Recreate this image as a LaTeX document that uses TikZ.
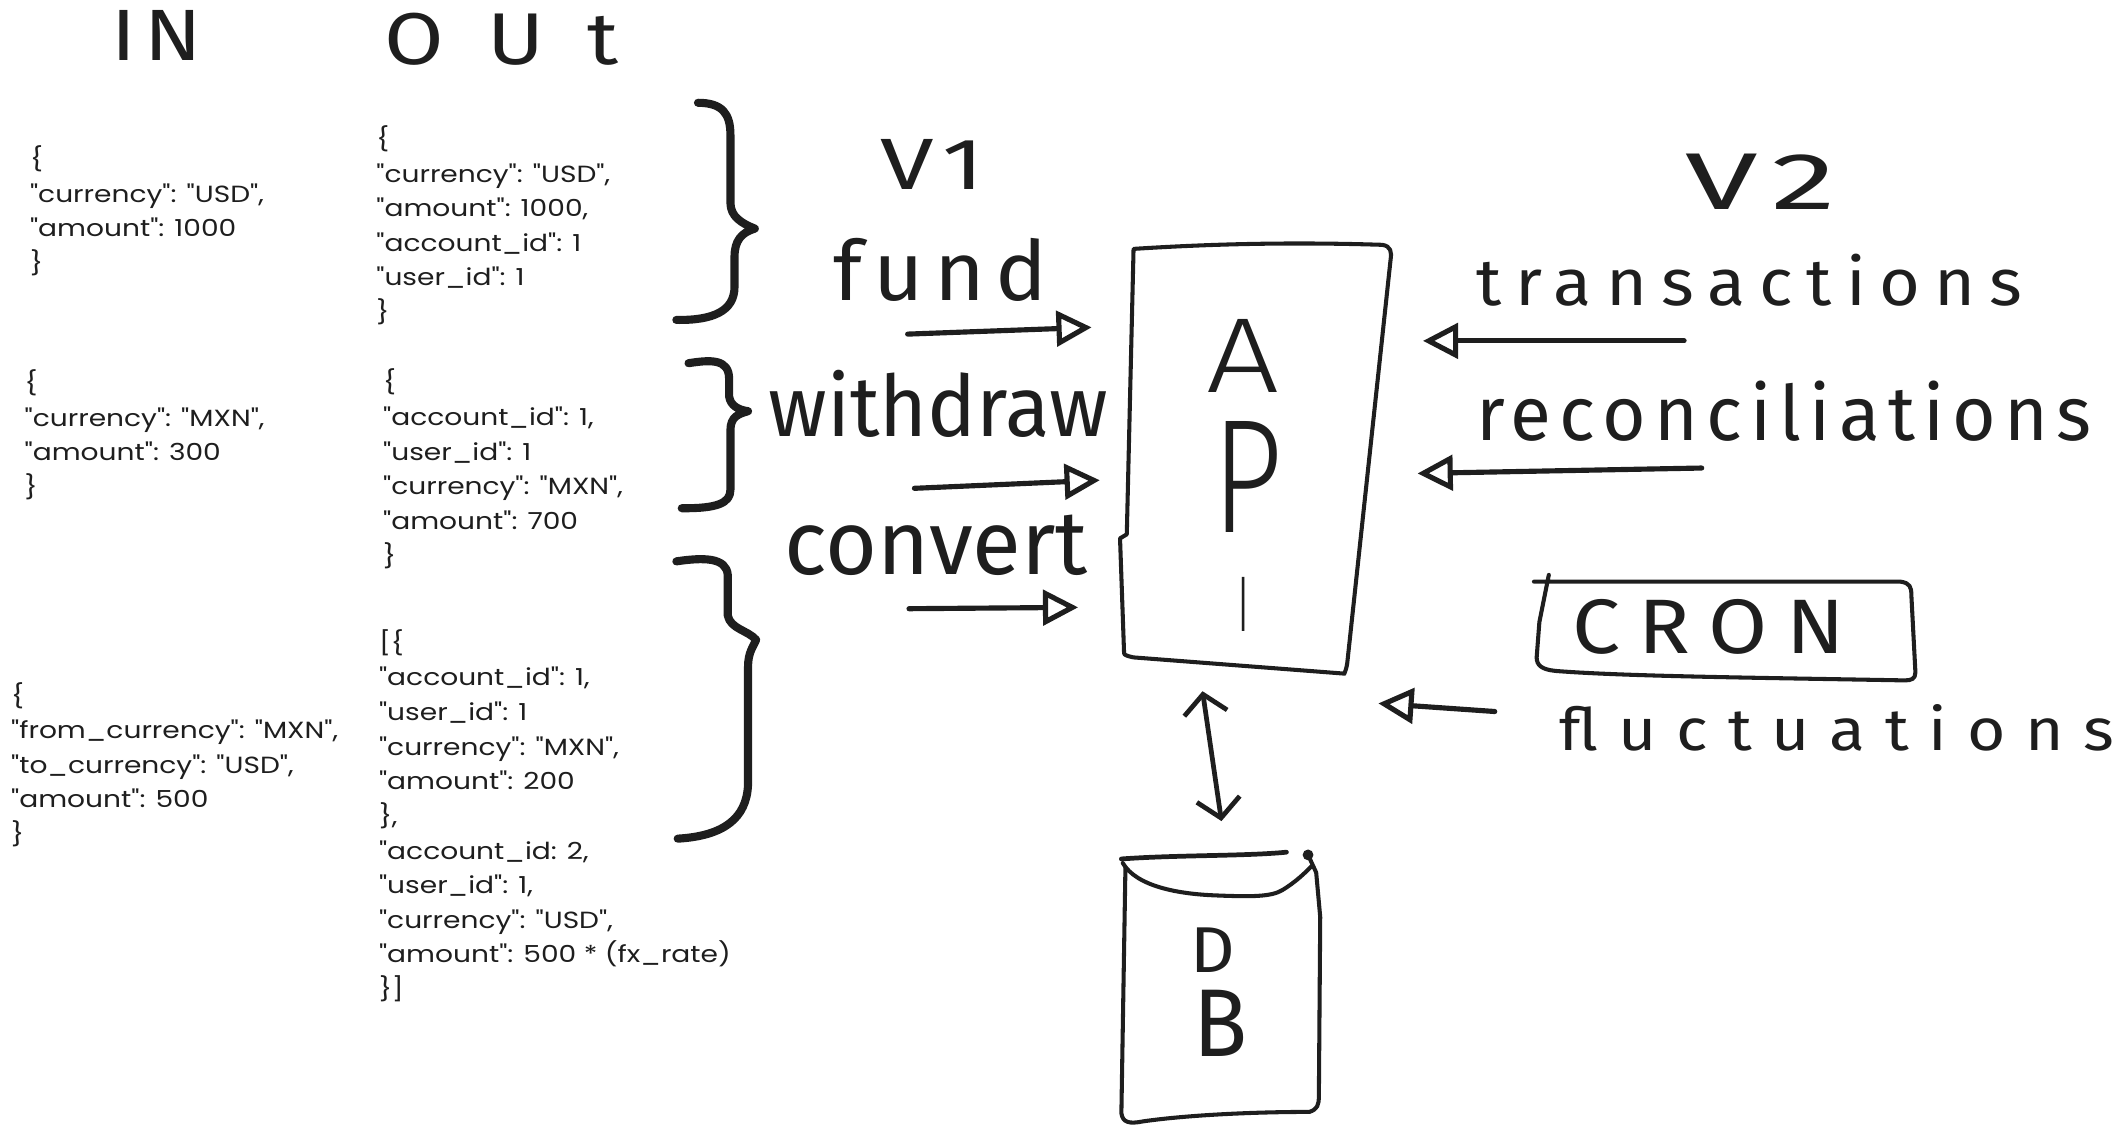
\documentclass[tikz,border=0pt]{standalone}
\usepackage{graphicx}
\usepackage{fontspec}
\setmainfont{Poppins}[FakeStretch=1.2, Ligatures=TeXOff]
\newfontfamily\handfont{Fira Sans}
\IfFontExistsTF{Fira Sans Light}{\newfontfamily\handlight{Fira Sans Light}}{\newfontfamily\handlight{Fira Sans}}
\usetikzlibrary{arrows.meta}
\definecolor{ink}{RGB}{30,30,30}
\newcommand\hand[4]{\resizebox{#1pt}{#2pt}{\handfont\addfontfeature{LetterSpace=#3}#4}}
\newcommand\handl[3]{\resizebox{#1pt}{#2pt}{\handlight #3}}
\newcommand\jl[1]{\begin{tabular}[t]{@{}l@{}}#1\end{tabular}}
\newcommand\q{\char34\relax}
\begin{document}
\begin{tikzpicture}[x=1pt,y=-1pt, line cap=round, line join=round,
  json/.style={font=\fontsize{17.3}{25.6}\selectfont, anchor=base west, inner sep=0pt, text=ink},
  lbl/.style={inner sep=0pt, anchor=base west, text=ink},
  sketch/.style={draw=ink, line width=3pt},
  bracestroke/.style={draw=ink, line width=6pt},
  arr/.style={draw=ink, line width=3.8pt, -{Triangle[open, length=26pt, width=26pt]}},
  dbl/.style={draw=ink, line width=3.5pt, {Straight Barb[length=14pt, width=32pt]}-{Straight Barb[length=14pt, width=32pt]}}]
\useasboundingbox (0,0) rectangle (1568,837);

% titles
\node[lbl] (tIN) at (82,45) {\hand{67}{37}{10}{IN}};
\node[lbl] (tOUT) at (284,48) {\hand{173}{38}{50}{OUt}};

% IN json
\node[json] (inA) at (22,124) {\jl{\{\\\q currency\q: \q USD\q,\\\q amount\q: 1000\\\}}};
\node[json] (inB) at (18,289.5) {\jl{\{\\\q currency\q: \q MXN\q,\\\q amount\q: 300\\\}}};
\node[json] (inC) at (8,520.5) {\jl{\{\\\q from\_currency\q: \q MXN\q,\\\q to\_currency\q: \q USD\q,\\\q amount\q: 500\\\}}};

% OUT json
\node[json] (outD) at (278,109) {\jl{\{\\\q currency\q: \q USD\q,\\\q amount\q: 1000,\\\q account\_id\q: 1\\\q user\_id\q: 1\\\}}};
\node[json] (outE) at (283,289) {\jl{\{\\\q account\_id\q: 1,\\\q user\_id\q: 1\\\q currency\q: \q MXN\q,\\\q amount\q: 700\\\}}};
\node[json] (outF) at (280,481.5) {\jl{[\{\\\q account\_id\q: 1,\\\q user\_id\q: 1\\\q currency\q: \q MXN\q,\\\q amount\q: 200\\\},\\\q account\_id: 2,\\\q user\_id\q: 1,\\\q currency\q: \q USD\q,\\\q amount\q: 500 * (fx\_rate)\\\}]}};

% braces
\draw[bracestroke] (516,76) .. controls (534,76) and (540,84) .. (540,100) -- (540,150)
  .. controls (540,160) and (548,165) .. (558,169) .. controls (548,172) and (543,178) .. (543,190)
  -- (543,212) .. controls (543,230) and (527,237) .. (500,236.5);
\draw[bracestroke] (509,268.5) .. controls (525,266) and (539,265) .. (539,280) -- (539,293)
  .. controls (540,300) and (546,303) .. (553,304) .. controls (546,306) and (540,308) .. (540,318)
  -- (540,362) .. controls (540,372) and (530,376) .. (504,375.7);
\draw[bracestroke] (500,415) .. controls (520,412) and (537,412) .. (538,425) -- (538,455)
  .. controls (540,465) and (553,466) .. (559,473) .. controls (557,478) and (553,482) .. (553,493)
  -- (553,580) .. controls (552,605) and (535,618) .. (501,620);

% v1 side
\node[lbl] (v1) at (651,140) {\hand{76}{37}{10}{V1}};
\node[lbl] (fund) at (616,222) {\hand{158}{46}{12}{fund}};
\node[lbl] (withdraw) at (568,323) {\hand{251}{49}{0}{withdraw}};
\node[lbl] (convert) at (580,425) {\hand{224}{44}{0}{convert}};
\coordinate (fundS) at (671,247);  \coordinate (fundE) at (807,242);
\coordinate (wdS) at (676,361);    \coordinate (wdE) at (813,355);
\coordinate (cvS) at (672,450);    \coordinate (cvE) at (797,449);
\draw[arr] (fundS) -- (fundE);
\draw[arr] (wdS) -- (wdE);
\draw[arr] (cvS) -- (cvE);

% API box
\coordinate (apiTL) at (838,184);
\coordinate (apiTR) at (1027,182);
\coordinate (apiBR) at (994,498);
\coordinate (apiBL) at (831,483);
\draw[sketch] (apiBL) -- (828,398) -- (833,395) -- (apiTL)
  .. controls (900,180) and (960,179) .. (1022,181) .. controls (1028,182) and (1029,186) .. (1028,192)
  -- (996,490) .. controls (995,497) and (993,499) .. (apiBR) -- (838,486) .. controls (833,485) and (831,484) .. (apiBL);
\node[lbl] (lA) at (892,290) {\handl{54}{54}{A}};
\node[lbl] (lP) at (896,394) {\handl{52}{82}{P}};
\node[lbl] (lI) at (915,467) {\handl{9}{40}{I}};

% v2 side
\node[lbl] (v2) at (1246,155) {\hand{111}{41}{10}{V2}};
\node[lbl] (trans) at (1091,226) {\hand{404}{38}{20}{transactions}};
\node[lbl] (recon) at (1091,326) {\hand{455}{44}{11}{reconciliations}};
\coordinate (trS) at (1245,252);  \coordinate (trE) at (1052,252);
\coordinate (rcS) at (1258,346);  \coordinate (rcE) at (1048,350);
\draw[arr] (trS) -- (trE);
\draw[arr] (rcS) -- (rcE);

% CRON
\draw[sketch] (1134,430) -- (1405,430) .. controls (1412,431) and (1413,434) .. (1413,440)
  -- (1416,497) .. controls (1416,502) and (1413,503) .. (1408,503)
  .. controls (1300,501) and (1200,500) .. (1150,496) .. controls (1140,495) and (1136,492) .. (1136,486)
  -- (1138,460) -- (1145,425);
\node[lbl] (cron) at (1162,483) {\hand{202}{40}{22}{CRON}};
\node[lbl] (fluct) at (1153,555) {\hand{410}{34}{30}{fluctuations}};
\coordinate (flS) at (1105,526);  \coordinate (flE) at (1019,520);
\draw[arr] (flS) -- (flE);

% API <-> DB
\coordinate (dbA) at (889,511);  \coordinate (dbZ) at (903,607);
\draw[dbl] (dbA) -- (dbZ);

% DB cylinder
\draw[sketch, line width=3.5pt] (829,635) .. controls (870,632) and (920,633) .. (951,630);
\draw[sketch] (830,638) .. controls (840,655) and (870,661) .. (900,662) .. controls (925,663) and (940,663) .. (948,658)
  .. controls (958,652) and (965,645) .. (970,640);
\draw[sketch] (832,641) -- (829,823) .. controls (830,830) and (835,831) .. (845,829)
  .. controls (880,824) and (930,822) .. (968,822) .. controls (974,820) and (975,817) .. (975,810)
  -- (976,678) -- (973,645) -- (967,632);
\fill[ink] (967,632) circle (4);
\node[lbl] (lD) at (880,719) {\hand{33}{33}{0}{D}};
\node[lbl] (lB) at (882,781) {\hand{40}{49}{0}{B}};
\end{tikzpicture}
\end{document}
